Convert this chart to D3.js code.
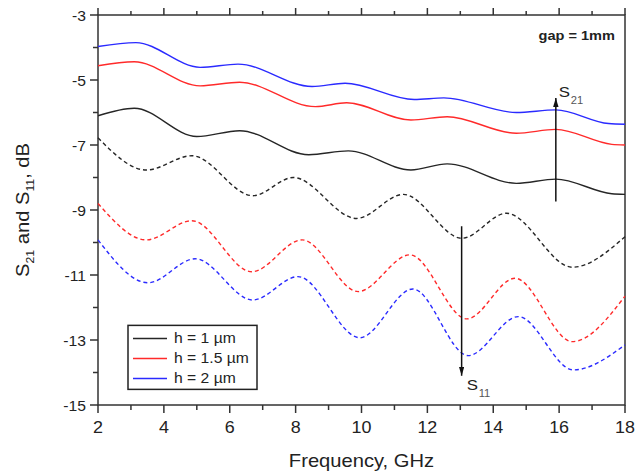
<!DOCTYPE html>
<html>
<head>
<meta charset="utf-8">
<script src="https://cdn.jsdelivr.net/npm/d3@7"></script>
<style>
  body { margin: 0; background: #fff; }
  text { font-family: "Liberation Sans", Arial, sans-serif; fill: #222; }
</style>
</head>
<body>
<div id="chart"></div>
<script>
// Tick values
const freqTicks = [2, 4, 6, 8, 10, 12, 14, 16, 18];
const dbTicks = [-3, -5, -7, -9, -11, -13, -15];

// Legend labels
const heights = ["h = 1 \u00b5m", "h = 1.5 \u00b5m", "h = 2 \u00b5m"];

// S21 curves [frequency GHz, dB]
const s21H1 = [[2, -6.1], [3.1, -5.87], [5.0, -6.74], [6.3, -6.56], [8.4, -7.3], [9.6, -7.18],
  [11.5, -7.77], [12.6, -7.58], [14.7, -8.18], [15.9, -8.05], [17.6, -8.5], [18, -8.52]];
const s21H15 = [[2, -4.56], [3.1, -4.44], [5.1, -5.18], [6.3, -5.07], [8.6, -5.82], [9.55, -5.7],
  [11.5, -6.23], [12.6, -6.13], [14.7, -6.64], [15.9, -6.52], [17.6, -6.98], [18, -7.0]];
const s21H2 = [[2, -3.97], [3.15, -3.85], [5.1, -4.61], [6.25, -4.51], [8.5, -5.2], [9.5, -5.1],
  [11.6, -5.6], [12.5, -5.55], [14.7, -6.0], [15.9, -5.92], [17.5, -6.34], [18, -6.36]];

// S11 curves
const s11H1 = [[2, -6.78], [3.47, -7.77], [4.85, -7.33], [6.7, -8.56], [7.93, -8.0], [9.85, -9.26],
  [11.27, -8.52], [13.05, -9.87], [14.4, -9.1], [16.4, -10.76], [18, -9.82]];
const s11H15 = [[2, -8.8], [3.47, -9.92], [4.85, -9.33], [6.67, -10.9], [8.2, -9.92], [9.9, -11.51],
  [11.47, -10.38], [13.2, -12.35], [14.66, -11.1], [16.4, -13.05], [18, -11.65]];
const s11H2 = [[2, -9.92], [3.52, -11.24], [4.95, -10.5], [6.7, -11.77], [8.07, -11.05], [9.95, -12.93],
  [11.56, -11.43], [13.24, -13.48], [14.76, -12.28], [16.43, -13.92], [18, -13.15]];

const colors = ["#262626", "#ff2a2a", "#2a2aff"];

const svgWidth = 635;
const svgHeight = 475;
const margin = { top: 15, right: 10, bottom: 70, left: 98 };
const chartWidth = svgWidth - margin.left - margin.right;
const chartHeight = svgHeight - margin.top - margin.bottom;

const svg = d3.select("#chart")
  .append("svg")
  .attr("width", svgWidth)
  .attr("height", svgHeight);

const chartGroup = svg.append("g")
  .attr("transform", `translate(${margin.left}, ${margin.top})`);

const x = d3.scaleLinear().domain([2, 18]).range([0, chartWidth]);
const y = d3.scaleLinear().domain([-15, -3]).range([chartHeight, 0]);

// helper for horizontally stretched text like the original
function label(g, tx, ty, str, size, anchor, weight) {
  return g.append("text")
    .attr("transform", `translate(${tx},${ty}) scale(1.12,1)`)
    .attr("text-anchor", anchor || "start")
    .style("font-size", size + "px")
    .style("font-weight", weight || "normal")
    .text(str);
}

// minor ticks
const minorX = d3.range(3, 18, 2);
const minorY = d3.range(-14, -3, 2);
const axisColor = "#333";

function tickLines(cls, data, fn) {
  chartGroup.selectAll("line." + cls).data(data).enter().append("line")
    .attr("class", cls).each(fn)
    .attr("stroke", axisColor).attr("stroke-width", 1.5);
}
tickLines("bx", freqTicks, function (d) {
  d3.select(this).attr("x1", x(d)).attr("x2", x(d)).attr("y1", chartHeight).attr("y2", chartHeight + 8);
});
tickLines("bxm", minorX, function (d) {
  d3.select(this).attr("x1", x(d)).attr("x2", x(d)).attr("y1", chartHeight).attr("y2", chartHeight + 5);
});
tickLines("tx", freqTicks, function (d) {
  d3.select(this).attr("x1", x(d)).attr("x2", x(d)).attr("y1", 0).attr("y2", -7);
});
tickLines("txm", minorX, function (d) {
  d3.select(this).attr("x1", x(d)).attr("x2", x(d)).attr("y1", 0).attr("y2", -4);
});
tickLines("ly", dbTicks, function (d) {
  d3.select(this).attr("x1", 0).attr("x2", -8).attr("y1", y(d)).attr("y2", y(d));
});
tickLines("lym", minorY, function (d) {
  d3.select(this).attr("x1", 0).attr("x2", -5).attr("y1", y(d)).attr("y2", y(d));
});

// frame
chartGroup.append("rect")
  .attr("width", chartWidth).attr("height", chartHeight)
  .attr("fill", "none").attr("stroke", axisColor).attr("stroke-width", 1.5);

// tick labels
freqTicks.forEach(d => label(chartGroup, x(d), chartHeight + 28, d, 16, "middle"));
dbTicks.forEach(d => label(chartGroup, -12, y(d) + 5.5, d, 14, "end"));

// curves
const line = d3.line()
  .x(d => x(d[0]))
  .y(d => y(d[1]))
  .curve(d3.curveMonotoneX);

[s21H1, s21H15, s21H2].forEach((s, i) => {
  chartGroup.append("path").datum(s)
    .attr("d", line).attr("fill", "none")
    .attr("stroke", colors[i]).attr("stroke-width", 1.4);
});
[s11H1, s11H15, s11H2].forEach((s, i) => {
  chartGroup.append("path").datum(s)
    .attr("d", line).attr("fill", "none")
    .attr("stroke", colors[i]).attr("stroke-width", 1.4)
    .attr("stroke-dasharray", "4,3");
});

// arrows
svg.append("defs").append("marker")
  .attr("id", "head").attr("viewBox", "0 0 10 6")
  .attr("refX", 10).attr("refY", 3)
  .attr("markerWidth", 6).attr("markerHeight", 3.6)
  .attr("orient", "auto-start-reverse")
  .append("path").attr("d", "M0,0 L10,3 L0,6 Z").attr("fill", "#111");

chartGroup.append("line")
  .attr("x1", x(15.9)).attr("x2", x(15.9))
  .attr("y1", y(-8.74)).attr("y2", y(-5.55))
  .attr("stroke", "#111").attr("stroke-width", 1.5)
  .attr("marker-end", "url(#head)");
chartGroup.append("line")
  .attr("x1", x(13.04)).attr("x2", x(13.04))
  .attr("y1", y(-9.5)).attr("y2", y(-14.1))
  .attr("stroke", "#111").attr("stroke-width", 1.5)
  .attr("marker-end", "url(#head)");

label(chartGroup, x(15.9) + 3, y(-5.55) - 1, "S", 15, "start");
label(chartGroup, x(15.9) + 15, y(-5.55) + 6, "21", 10, "start").style("fill", "#555");
label(chartGroup, x(13.04) + 5, y(-14.1) + 14, "S", 15, "start");
label(chartGroup, x(13.04) + 17, y(-14.1) + 21, "11", 10, "start").style("fill", "#555");

// gap note
label(chartGroup, chartWidth - 10, 25, "gap = 1mm", 13, "end", "bold");

// legend
const legend = chartGroup.append("g").attr("transform", `translate(30, ${y(-12.55)})`);
legend.append("rect")
  .attr("width", 129).attr("height", 64)
  .attr("fill", "#fff").attr("stroke", "#222").attr("stroke-width", 1.5);
heights.forEach((h, i) => {
  legend.append("line")
    .attr("x1", 5).attr("x2", 39)
    .attr("y1", 13 + i * 20).attr("y2", 13 + i * 20)
    .attr("stroke", colors[i]).attr("stroke-width", 1.5);
  label(legend, 46, 18 + i * 20, h, 14, "start");
});

// axis titles
label(chartGroup, chartWidth / 2, chartHeight + 62, "Frequency, GHz", 18, "middle");

const yTitle = svg.append("text")
  .attr("transform", `translate(29, 210) rotate(-90) scale(1.12,1)`)
  .attr("text-anchor", "middle")
  .style("font-size", "18px");
yTitle.append("tspan").text("S");
yTitle.append("tspan").attr("dy", 5).style("font-size", "11px").text("21");
yTitle.append("tspan").attr("dy", -5).text(" and S");
yTitle.append("tspan").attr("dy", 5).style("font-size", "11px").text("11");
yTitle.append("tspan").attr("dy", -5).text(", dB");
</script>
</body>
</html>
